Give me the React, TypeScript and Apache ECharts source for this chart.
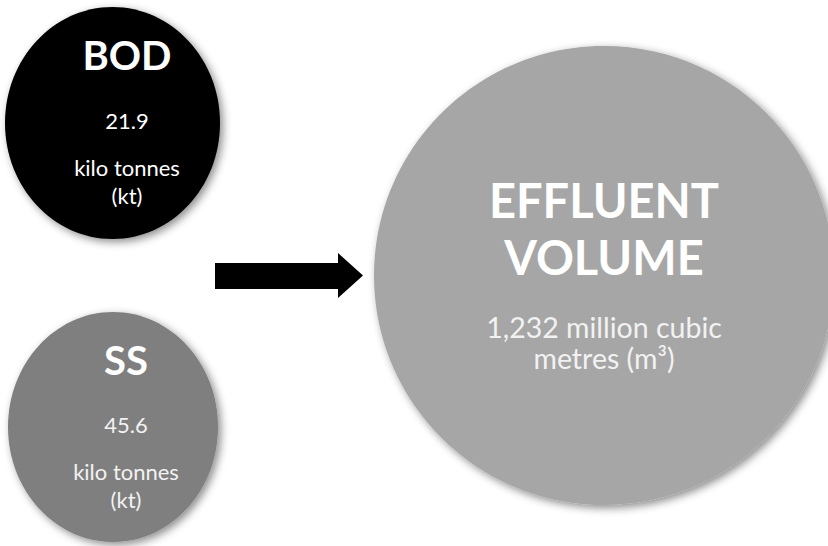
import React, { useEffect, useRef } from "react";
import * as echarts from "echarts";

// Data
const titles = ["BOD", "SS", "EFFLUENT VOLUME"];
const titleLines = [["BOD"], ["SS"], ["EFFLUENT", "VOLUME"]];
const values = ["21.9", "45.6", "1,232"];
const unitLines = [["kilo tonnes", "(kt)"], ["kilo tonnes", "(kt)"], ["million cubic", "metres (m³)"]];

// Layout (positions/styles)
const shapes = [
  { cx: 112.5, cy: 123, rx: 107.5, ry: 116, fill: "#000000", textX: 127, titleY: 55, titleSize: 40, titleGap: 0, bodySize: 22, bodyStart: 120, bodyGap: 47, lineGap: 28, valueInline: false, textFill: "#ffffff" },
  { cx: 113, cy: 427, rx: 105, ry: 115, fill: "#7f7f7f", textX: 126, titleY: 360, titleSize: 40, titleGap: 0, bodySize: 22, bodyStart: 424, bodyGap: 47, lineGap: 28, valueInline: false, textFill: "#f2f2f2" },
  { cx: 604, cy: 275.5, rx: 230, ry: 229.5, fill: "#a6a6a6", textX: 604, titleY: 200, titleSize: 47, titleGap: 57, bodySize: 28.5, bodyStart: 327, bodyGap: 31, lineGap: 31, valueInline: true, textFill: "#f2f2f2" },
];

const arrowPoints = [
  [215, 263], [338, 263], [338, 253], [363, 275.5], [338, 298], [338, 289], [215, 289],
];

const HEAD_FONT = "Lato, 'Open Sans', sans-serif";
const BODY_FONT = "Lato, 'Noto Sans', sans-serif";

export default function App() {
  const ref = useRef<HTMLDivElement>(null);
  useEffect(() => {
    if (!ref.current) return;
    const chart = echarts.init(ref.current, undefined, { renderer: "svg" });
    const elements: any[] = [];
    const bodyText = (t: string, x: number, y: number, size: number, fill: string) => ({
      type: "text",
      x,
      y,
      style: { text: t, fill, fontFamily: BODY_FONT, fontSize: size, align: "center", verticalAlign: "middle" },
      z: 3,
    });
    shapes.forEach((c, i) => {
      elements.push({
        type: "ellipse",
        shape: { cx: c.cx, cy: c.cy, rx: c.rx, ry: c.ry },
        style: {
          fill: c.fill,
          shadowBlur: 8,
          shadowOffsetX: 3,
          shadowOffsetY: 3,
          shadowColor: "rgba(0,0,0,0.45)",
        },
        z: 1,
      });
      titleLines[i].forEach((t, k) => {
        elements.push({
          type: "text",
          x: c.textX,
          y: c.titleY + k * c.titleGap,
          style: {
            text: t,
            fill: "#ffffff",
            fontFamily: HEAD_FONT,
            fontWeight: "bold",
            fontSize: c.titleSize,
            align: "center",
            verticalAlign: "middle",
          },
          z: 3,
        });
      });
      if (c.valueInline) {
        const lines = [values[i] + " " + unitLines[i][0], unitLines[i][1]];
        lines.forEach((t, k) => elements.push(bodyText(t, c.textX, c.bodyStart + k * c.lineGap, c.bodySize, c.textFill)));
      } else {
        elements.push(bodyText(values[i], c.textX, c.bodyStart, c.bodySize, c.textFill));
        unitLines[i].forEach((t, k) =>
          elements.push(bodyText(t, c.textX, c.bodyStart + c.bodyGap + k * c.lineGap, c.bodySize, c.textFill))
        );
      }
    });
    elements.push({
      type: "polygon",
      shape: { points: arrowPoints },
      style: { fill: "#000000" },
      z: 2,
    });
    chart.setOption({
      animation: false,
      backgroundColor: "#ffffff",
      title: { show: false, text: titles.join(" / ") },
      graphic: { elements },
    });
    return () => chart.dispose();
  }, []);
  return <div ref={ref} style={{ position: "fixed", left: 0, top: 0, width: 828, height: 546 }} />;
}
